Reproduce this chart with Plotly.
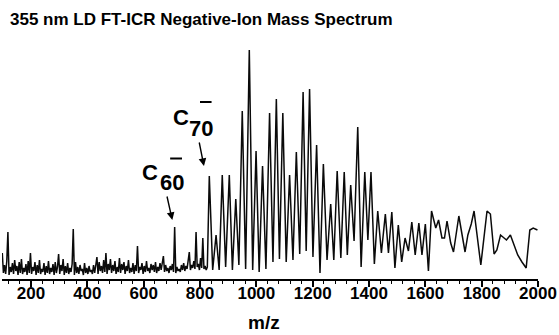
import numpy as np
import plotly.graph_objects as go

# ---- Data (m/z vs intensity, arbitrary units) ----
# Dense low-mass noise region, sampled on a uniform m/z grid
noise_start = 98
noise_step = 4
noise_I = [
    26, 6, 14, 5, 18, 47, 4, 12, 7, 16, 5, 19, 8, 13, 4, 17, 6, 20, 5, 11,
    7, 15, 4, 18, 6, 26, 5, 12, 8, 17, 4, 14, 6, 19, 5, 10, 7, 16, 4, 13,
    6, 18, 5, 11, 7, 15, 4, 17, 6, 12, 25, 5, 14, 8, 20, 4, 13, 6, 16, 5,
    11, 7, 15, 50, 4, 17, 6, 12, 5, 14, 8, 10, 4, 16, 6, 11, 5, 13, 7, 9,
    5, 14, 6, 12, 22, 5, 17, 8, 13, 6, 19, 7, 26, 5, 15, 9, 20, 6, 14, 8,
    18, 5, 12, 7, 21, 6, 15, 9, 17, 5, 13, 8, 19, 6, 11, 7, 16, 5, 14, 8,
    33, 6, 12, 9, 16, 5, 13, 7, 18, 8, 11, 6, 15, 9, 14, 7, 17, 6, 12, 8,
    16, 9, 19, 23, 7, 14, 8, 11, 6, 13, 9, 15, 7, 52, 6, 12, 8, 10, 7, 14,
    9, 16, 8, 13, 10, 20, 27, 9, 14, 11, 18, 10, 47, 12, 15, 9, 21, 11, 41, 10,
    13, 9, 12,
]

# Fullerene cluster series (peaks and valleys), C70- onwards
series_mz = [
    833, 845, 857, 868, 879, 891, 904, 915, 927, 938, 950, 962, 975, 987,
    999, 1010, 1022, 1034, 1047, 1059, 1071, 1082, 1094, 1106, 1118, 1130,
    1142, 1154, 1166, 1177, 1189, 1201, 1214, 1226, 1238, 1251, 1264, 1275,
    1287, 1300, 1312, 1323, 1335, 1347, 1360, 1372, 1385, 1396, 1407, 1419,
    1431, 1444, 1458, 1469, 1481, 1492, 1504, 1516, 1528, 1540, 1552, 1564,
    1577, 1588, 1600, 1611, 1622,
]
series_I = [
    103, 9, 44, 9, 104, 12, 104, 9, 80, 14, 168, 10, 229, 9,
    128, 7, 113, 10, 166, 17, 180, 20, 166, 17, 104, 19,
    127, 25, 187, 28, 190, 22, 134, 6, 115, 19, 75, 19,
    108, 21, 107, 24, 94, 38, 152, 12, 107, 39, 107, 15,
    68, 26, 65, 26, 67, 11, 54, 17, 41, 28, 57, 24,
    56, 24, 55, 8, 68,
]

# High-mass tail (coarser sampling)
tail_mz = [1637, 1647, 1659, 1668, 1677, 1690, 1700, 1719, 1741, 1751, 1763,
           1773, 1784, 1797, 1819, 1831, 1844, 1854, 1867, 1888, 1902, 1912,
           1928, 1943, 1958, 1971, 1983, 1998]
tail_I = [51, 59, 41, 41, 58, 36, 27, 63, 27, 44, 55,
          68, 44, 14, 68, 65, 25, 29, 44, 39, 44, 36,
          24, 17, 11, 49, 51, 49]

tick_vals = [200, 400, 600, 800, 1000, 1200, 1400, 1600, 1800, 2000]
tick_text = [str(v) for v in tick_vals]

noise_mz = noise_start + noise_step * np.arange(len(noise_I))
mz = np.concatenate([noise_mz, series_mz, tail_mz])
inten = np.concatenate([noise_I, series_I, tail_I])

fig = go.Figure()
fig.add_trace(go.Scatter(x=mz, y=inten, mode="lines",
                         line=dict(color="#0a0a0a", width=1.5),
                         hoverinfo="skip", showlegend=False))

FONT = "Liberation Sans, Arial, Helvetica, sans-serif"
NARROW = "Liberation Sans Narrow, Arial Narrow, Liberation Sans, sans-serif"

fig.update_layout(
    width=559, height=335,
    margin=dict(l=2, r=21, t=45, b=56),
    paper_bgcolor="white", plot_bgcolor="white",
    xaxis=dict(range=[97, 2000], showgrid=False, zeroline=False,
               showline=True, linecolor="black", linewidth=1.5,
               ticks="outside", ticklen=6, tickwidth=1.5, tickcolor="black",
               tickvals=tick_vals, ticktext=tick_text,
               ticklabelstandoff=-8,
               tickfont=dict(family=NARROW, size=17, color="black", weight="bold"),
               minor=dict(dtick=40, tick0=0, ticks="outside", ticklen=3,
                          tickwidth=1.2, tickcolor="black", showgrid=False)),
    yaxis=dict(range=[0, 234], visible=False),
    showlegend=False,
)

# Title
fig.add_annotation(xref="paper", yref="paper", x=0.0112, y=1.0 + 25 / 234,
                   text="<b>355 nm LD FT-ICR Negative-Ion Mass Spectrum</b>",
                   showarrow=False, xanchor="left", yanchor="middle",
                   font=dict(family=FONT, size=17, color="black"))

# x-axis title
fig.add_annotation(xref="paper", yref="paper", x=0.4888, y=-0.1838,
                   text="<b>m/z</b>", showarrow=False,
                   xanchor="center", yanchor="middle",
                   font=dict(family=FONT, size=19, color="black"))

LBL = dict(family=FONT, size=22, color="black")
# C60- label
fig.add_annotation(x=624, y=107, text="<b>C</b>", showarrow=False, font=LBL,
                   xanchor="center", yanchor="middle")
fig.add_annotation(x=700, y=97, text="<b>60</b>", showarrow=False, font=LBL,
                   xanchor="center", yanchor="middle")
fig.add_shape(type="line", x0=694, x1=736, y0=120.5, y1=120.5,
              line=dict(color="black", width=2))
# C70- label
fig.add_annotation(x=733, y=161.5, text="<b>C</b>", showarrow=False, font=LBL,
                   xanchor="center", yanchor="middle")
fig.add_annotation(x=802, y=151, text="<b>70</b>", showarrow=False, font=LBL,
                   xanchor="center", yanchor="middle")
fig.add_shape(type="line", x0=800, x1=841, y0=177, y1=177,
              line=dict(color="black", width=2))

# Arrows
fig.add_annotation(x=701.6, y=59, ax=-5.6, ay=-25, text="", showarrow=True,
                   arrowhead=2, arrowsize=1.1, arrowwidth=1.4, arrowcolor="black")
fig.add_annotation(x=814, y=113, ax=-5, ay=-25, text="", showarrow=True,
                   arrowhead=2, arrowsize=1.1, arrowwidth=1.4, arrowcolor="black")

fig.write_html("out.html")
